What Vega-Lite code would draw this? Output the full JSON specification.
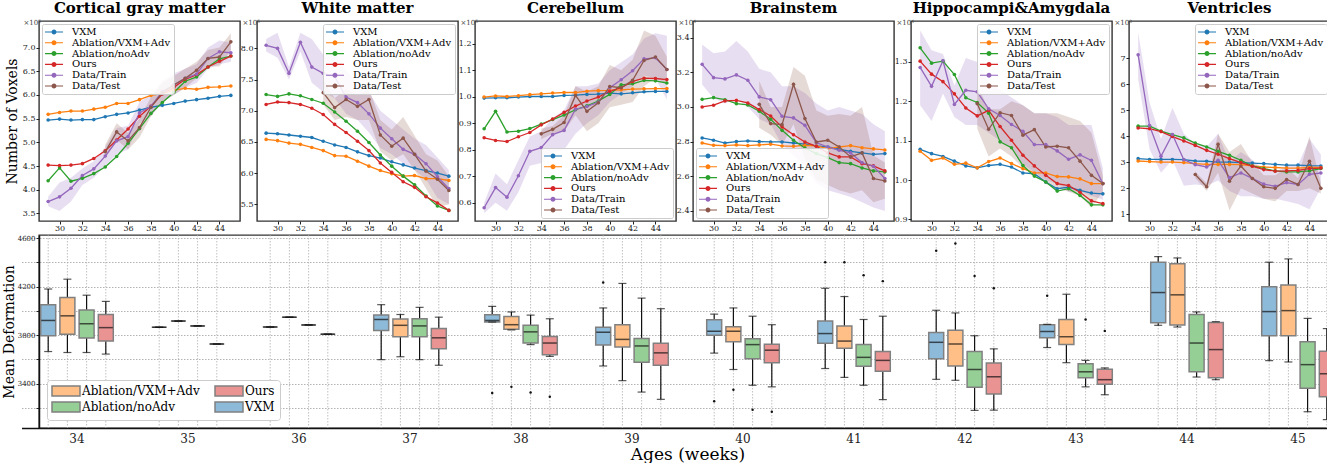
{
"$schema":"https://vega.github.io/schema/vega-lite/v6.json",
"background":"white",
"padding":{"left":1,"top":0,"right":0,"bottom":0},
"datasets":{
"l1":[
{"method":"VXM","age":29,"value":5.47},{"method":"VXM","age":30,"value":5.49},{"method":"VXM","age":31,"value":5.47},{"method":"VXM","age":32,"value":5.48},{"method":"VXM","age":33,"value":5.48},{"method":"VXM","age":34,"value":5.54},{"method":"VXM","age":35,"value":5.59},{"method":"VXM","age":36,"value":5.62},{"method":"VXM","age":37,"value":5.68},{"method":"VXM","age":38,"value":5.74},{"method":"VXM","age":39,"value":5.78},{"method":"VXM","age":40,"value":5.82},{"method":"VXM","age":41,"value":5.87},{"method":"VXM","age":42,"value":5.90},{"method":"VXM","age":43,"value":5.93},{"method":"VXM","age":44,"value":5.97},{"method":"VXM","age":45,"value":5.99},
{"method":"Ablation/VXM+Adv","age":29,"value":5.59},{"method":"Ablation/VXM+Adv","age":30,"value":5.63},{"method":"Ablation/VXM+Adv","age":31,"value":5.66},{"method":"Ablation/VXM+Adv","age":32,"value":5.66},{"method":"Ablation/VXM+Adv","age":33,"value":5.70},{"method":"Ablation/VXM+Adv","age":34,"value":5.74},{"method":"Ablation/VXM+Adv","age":35,"value":5.82},{"method":"Ablation/VXM+Adv","age":36,"value":5.82},{"method":"Ablation/VXM+Adv","age":37,"value":5.90},{"method":"Ablation/VXM+Adv","age":38,"value":5.99},{"method":"Ablation/VXM+Adv","age":39,"value":6.03},{"method":"Ablation/VXM+Adv","age":40,"value":6.10},{"method":"Ablation/VXM+Adv","age":41,"value":6.14},{"method":"Ablation/VXM+Adv","age":42,"value":6.12},{"method":"Ablation/VXM+Adv","age":43,"value":6.16},{"method":"Ablation/VXM+Adv","age":44,"value":6.17},{"method":"Ablation/VXM+Adv","age":45,"value":6.19},
{"method":"Ablation/noAdv","age":29,"value":4.19},{"method":"Ablation/noAdv","age":30,"value":4.46},{"method":"Ablation/noAdv","age":31,"value":4.18},{"method":"Ablation/noAdv","age":32,"value":4.24},{"method":"Ablation/noAdv","age":33,"value":4.34},{"method":"Ablation/noAdv","age":34,"value":4.48},{"method":"Ablation/noAdv","age":35,"value":4.70},{"method":"Ablation/noAdv","age":36,"value":4.98},{"method":"Ablation/noAdv","age":37,"value":5.29},{"method":"Ablation/noAdv","age":38,"value":5.61},{"method":"Ablation/noAdv","age":39,"value":5.84},{"method":"Ablation/noAdv","age":40,"value":6.05},{"method":"Ablation/noAdv","age":41,"value":6.29},{"method":"Ablation/noAdv","age":42,"value":6.38},{"method":"Ablation/noAdv","age":43,"value":6.59},{"method":"Ablation/noAdv","age":44,"value":6.76},{"method":"Ablation/noAdv","age":45,"value":6.82},
{"method":"Ours","age":29,"value":4.52},{"method":"Ours","age":30,"value":4.51},{"method":"Ours","age":31,"value":4.52},{"method":"Ours","age":32,"value":4.55},{"method":"Ours","age":33,"value":4.66},{"method":"Ours","age":34,"value":4.82},{"method":"Ours","age":35,"value":5.05},{"method":"Ours","age":36,"value":5.28},{"method":"Ours","age":37,"value":5.55},{"method":"Ours","age":38,"value":5.76},{"method":"Ours","age":39,"value":6.02},{"method":"Ours","age":40,"value":6.16},{"method":"Ours","age":41,"value":6.33},{"method":"Ours","age":42,"value":6.43},{"method":"Ours","age":43,"value":6.59},{"method":"Ours","age":44,"value":6.71},{"method":"Ours","age":45,"value":6.82},
{"method":"Data/Train","age":29,"value":3.75},{"method":"Data/Train","age":30,"value":3.85},{"method":"Data/Train","age":31,"value":4.03},{"method":"Data/Train","age":32,"value":4.30},{"method":"Data/Train","age":33,"value":4.44},{"method":"Data/Train","age":34,"value":4.71},{"method":"Data/Train","age":35,"value":5.03},{"method":"Data/Train","age":36,"value":5.12},{"method":"Data/Train","age":37,"value":5.62},{"method":"Data/Train","age":38,"value":5.76},{"method":"Data/Train","age":39,"value":6.07},{"method":"Data/Train","age":40,"value":6.21},{"method":"Data/Train","age":41,"value":6.35},{"method":"Data/Train","age":42,"value":6.44},{"method":"Data/Train","age":43,"value":6.77},{"method":"Data/Train","age":44,"value":6.91},{"method":"Data/Train","age":45,"value":6.89},
{"method":"Data/Test","age":34,"value":4.80},{"method":"Data/Test","age":35,"value":5.22},{"method":"Data/Test","age":36,"value":5.03},{"method":"Data/Test","age":37,"value":5.31},{"method":"Data/Test","age":38,"value":5.74},{"method":"Data/Test","age":39,"value":6.05},{"method":"Data/Test","age":40,"value":6.21},{"method":"Data/Test","age":41,"value":6.35},{"method":"Data/Test","age":42,"value":6.52},{"method":"Data/Test","age":43,"value":6.77},{"method":"Data/Test","age":44,"value":6.80},{"method":"Data/Test","age":45,"value":7.12}
],
"b1":[
{"method":"Data/Train","age":29,"lo":3.65,"hi":3.85},{"method":"Data/Train","age":30,"lo":3.55,"hi":4.15},{"method":"Data/Train","age":31,"lo":3.75,"hi":4.25},{"method":"Data/Train","age":32,"lo":4.1,"hi":4.45},{"method":"Data/Train","age":33,"lo":4.25,"hi":4.6},{"method":"Data/Train","age":34,"lo":4.5,"hi":4.9},{"method":"Data/Train","age":35,"lo":4.75,"hi":5.3},{"method":"Data/Train","age":36,"lo":4.85,"hi":5.35},{"method":"Data/Train","age":37,"lo":5.4,"hi":5.85},{"method":"Data/Train","age":38,"lo":5.55,"hi":6.0},{"method":"Data/Train","age":39,"lo":5.85,"hi":6.3},{"method":"Data/Train","age":40,"lo":6.0,"hi":6.45},{"method":"Data/Train","age":41,"lo":6.15,"hi":6.55},{"method":"Data/Train","age":42,"lo":6.25,"hi":6.65},{"method":"Data/Train","age":43,"lo":6.55,"hi":7.0},{"method":"Data/Train","age":44,"lo":6.65,"hi":7.15},{"method":"Data/Train","age":45,"lo":6.7,"hi":7.1},
{"method":"Data/Test","age":34,"lo":4.65,"hi":4.95},{"method":"Data/Test","age":35,"lo":5.05,"hi":5.4},{"method":"Data/Test","age":36,"lo":4.85,"hi":5.2},{"method":"Data/Test","age":37,"lo":5.1,"hi":5.5},{"method":"Data/Test","age":38,"lo":5.55,"hi":5.95},{"method":"Data/Test","age":39,"lo":5.85,"hi":6.25},{"method":"Data/Test","age":40,"lo":6.0,"hi":6.4},{"method":"Data/Test","age":41,"lo":6.15,"hi":6.55},{"method":"Data/Test","age":42,"lo":6.35,"hi":6.7},{"method":"Data/Test","age":43,"lo":6.6,"hi":6.95},{"method":"Data/Test","age":44,"lo":6.6,"hi":7.0},{"method":"Data/Test","age":45,"lo":6.95,"hi":7.3}
],
"l2":[
{"method":"VXM","age":29,"value":6.64},{"method":"VXM","age":30,"value":6.63},{"method":"VXM","age":31,"value":6.61},{"method":"VXM","age":32,"value":6.59},{"method":"VXM","age":33,"value":6.57},{"method":"VXM","age":34,"value":6.51},{"method":"VXM","age":35,"value":6.45},{"method":"VXM","age":36,"value":6.41},{"method":"VXM","age":37,"value":6.34},{"method":"VXM","age":38,"value":6.28},{"method":"VXM","age":39,"value":6.24},{"method":"VXM","age":40,"value":6.18},{"method":"VXM","age":41,"value":6.13},{"method":"VXM","age":42,"value":6.08},{"method":"VXM","age":43,"value":6.04},{"method":"VXM","age":44,"value":6.00},{"method":"VXM","age":45,"value":5.95},
{"method":"Ablation/VXM+Adv","age":29,"value":6.54},{"method":"Ablation/VXM+Adv","age":30,"value":6.52},{"method":"Ablation/VXM+Adv","age":31,"value":6.48},{"method":"Ablation/VXM+Adv","age":32,"value":6.46},{"method":"Ablation/VXM+Adv","age":33,"value":6.41},{"method":"Ablation/VXM+Adv","age":34,"value":6.36},{"method":"Ablation/VXM+Adv","age":35,"value":6.28},{"method":"Ablation/VXM+Adv","age":36,"value":6.27},{"method":"Ablation/VXM+Adv","age":37,"value":6.19},{"method":"Ablation/VXM+Adv","age":38,"value":6.11},{"method":"Ablation/VXM+Adv","age":39,"value":6.04},{"method":"Ablation/VXM+Adv","age":40,"value":5.99},{"method":"Ablation/VXM+Adv","age":41,"value":5.95},{"method":"Ablation/VXM+Adv","age":42,"value":5.96},{"method":"Ablation/VXM+Adv","age":43,"value":5.91},{"method":"Ablation/VXM+Adv","age":44,"value":5.91},{"method":"Ablation/VXM+Adv","age":45,"value":5.88},
{"method":"Ablation/noAdv","age":29,"value":7.26},{"method":"Ablation/noAdv","age":30,"value":7.23},{"method":"Ablation/noAdv","age":31,"value":7.27},{"method":"Ablation/noAdv","age":32,"value":7.24},{"method":"Ablation/noAdv","age":33,"value":7.18},{"method":"Ablation/noAdv","age":34,"value":7.12},{"method":"Ablation/noAdv","age":35,"value":6.98},{"method":"Ablation/noAdv","age":36,"value":6.83},{"method":"Ablation/noAdv","age":37,"value":6.67},{"method":"Ablation/noAdv","age":38,"value":6.49},{"method":"Ablation/noAdv","age":39,"value":6.29},{"method":"Ablation/noAdv","age":40,"value":6.11},{"method":"Ablation/noAdv","age":41,"value":5.95},{"method":"Ablation/noAdv","age":42,"value":5.81},{"method":"Ablation/noAdv","age":43,"value":5.63},{"method":"Ablation/noAdv","age":44,"value":5.47},{"method":"Ablation/noAdv","age":45,"value":5.40},
{"method":"Ours","age":29,"value":7.10},{"method":"Ours","age":30,"value":7.14},{"method":"Ours","age":31,"value":7.13},{"method":"Ours","age":32,"value":7.10},{"method":"Ours","age":33,"value":7.04},{"method":"Ours","age":34,"value":6.94},{"method":"Ours","age":35,"value":6.78},{"method":"Ours","age":36,"value":6.65},{"method":"Ours","age":37,"value":6.51},{"method":"Ours","age":38,"value":6.36},{"method":"Ours","age":39,"value":6.16},{"method":"Ours","age":40,"value":6.01},{"method":"Ours","age":41,"value":5.86},{"method":"Ours","age":42,"value":5.77},{"method":"Ours","age":43,"value":5.62},{"method":"Ours","age":44,"value":5.52},{"method":"Ours","age":45,"value":5.40},
{"method":"Data/Train","age":29,"value":8.05},{"method":"Data/Train","age":30,"value":8.00},{"method":"Data/Train","age":31,"value":7.60},{"method":"Data/Train","age":32,"value":8.10},{"method":"Data/Train","age":33,"value":7.70},{"method":"Data/Train","age":34,"value":7.60},{"method":"Data/Train","age":35,"value":7.55},{"method":"Data/Train","age":36,"value":7.22},{"method":"Data/Train","age":37,"value":7.13},{"method":"Data/Train","age":38,"value":6.95},{"method":"Data/Train","age":39,"value":6.72},{"method":"Data/Train","age":40,"value":6.55},{"method":"Data/Train","age":41,"value":6.38},{"method":"Data/Train","age":42,"value":6.30},{"method":"Data/Train","age":43,"value":6.15},{"method":"Data/Train","age":44,"value":5.94},{"method":"Data/Train","age":45,"value":5.75},
{"method":"Data/Test","age":34,"value":7.29},{"method":"Data/Test","age":35,"value":7.05},{"method":"Data/Test","age":36,"value":7.18},{"method":"Data/Test","age":37,"value":7.07},{"method":"Data/Test","age":38,"value":7.18},{"method":"Data/Test","age":39,"value":6.61},{"method":"Data/Test","age":40,"value":6.43},{"method":"Data/Test","age":41,"value":6.56},{"method":"Data/Test","age":42,"value":6.30},{"method":"Data/Test","age":43,"value":6.03},{"method":"Data/Test","age":44,"value":5.90},{"method":"Data/Test","age":45,"value":5.72}
],
"b2":[
{"method":"Data/Train","age":29,"lo":7.95,"hi":8.15},{"method":"Data/Train","age":30,"lo":7.85,"hi":8.25},{"method":"Data/Train","age":31,"lo":7.5,"hi":7.7},{"method":"Data/Train","age":32,"lo":7.95,"hi":8.25},{"method":"Data/Train","age":33,"lo":7.45,"hi":8.15},{"method":"Data/Train","age":34,"lo":7.3,"hi":7.9},{"method":"Data/Train","age":35,"lo":7.2,"hi":7.95},{"method":"Data/Train","age":36,"lo":6.95,"hi":7.65},{"method":"Data/Train","age":37,"lo":6.85,"hi":7.45},{"method":"Data/Train","age":38,"lo":6.65,"hi":7.3},{"method":"Data/Train","age":39,"lo":6.4,"hi":7.0},{"method":"Data/Train","age":40,"lo":6.3,"hi":6.85},{"method":"Data/Train","age":41,"lo":6.15,"hi":6.7},{"method":"Data/Train","age":42,"lo":6.05,"hi":6.55},{"method":"Data/Train","age":43,"lo":5.9,"hi":6.45},{"method":"Data/Train","age":44,"lo":5.6,"hi":6.25},{"method":"Data/Train","age":45,"lo":5.5,"hi":6.05},
{"method":"Data/Test","age":34,"lo":7.1,"hi":7.5},{"method":"Data/Test","age":35,"lo":6.85,"hi":7.2},{"method":"Data/Test","age":36,"lo":6.9,"hi":7.35},{"method":"Data/Test","age":37,"lo":6.85,"hi":7.25},{"method":"Data/Test","age":38,"lo":6.85,"hi":7.35},{"method":"Data/Test","age":39,"lo":6.35,"hi":6.85},{"method":"Data/Test","age":40,"lo":6.2,"hi":6.7},{"method":"Data/Test","age":41,"lo":6.3,"hi":6.9},{"method":"Data/Test","age":42,"lo":6.05,"hi":6.6},{"method":"Data/Test","age":43,"lo":5.75,"hi":6.3},{"method":"Data/Test","age":44,"lo":5.45,"hi":6.2},{"method":"Data/Test","age":45,"lo":5.5,"hi":5.95}
],
"l3":[
{"method":"VXM","age":29,"value":0.995},{"method":"VXM","age":30,"value":0.996},{"method":"VXM","age":31,"value":0.996},{"method":"VXM","age":32,"value":0.999},{"method":"VXM","age":33,"value":1.001},{"method":"VXM","age":34,"value":1.001},{"method":"VXM","age":35,"value":1.001},{"method":"VXM","age":36,"value":1.005},{"method":"VXM","age":37,"value":1.006},{"method":"VXM","age":38,"value":1.009},{"method":"VXM","age":39,"value":1.010},{"method":"VXM","age":40,"value":1.014},{"method":"VXM","age":41,"value":1.011},{"method":"VXM","age":42,"value":1.015},{"method":"VXM","age":43,"value":1.019},{"method":"VXM","age":44,"value":1.020},{"method":"VXM","age":45,"value":1.020},
{"method":"Ablation/VXM+Adv","age":29,"value":0.999},{"method":"Ablation/VXM+Adv","age":30,"value":1.003},{"method":"Ablation/VXM+Adv","age":31,"value":1.001},{"method":"Ablation/VXM+Adv","age":32,"value":1.004},{"method":"Ablation/VXM+Adv","age":33,"value":1.008},{"method":"Ablation/VXM+Adv","age":34,"value":1.011},{"method":"Ablation/VXM+Adv","age":35,"value":1.014},{"method":"Ablation/VXM+Adv","age":36,"value":1.016},{"method":"Ablation/VXM+Adv","age":37,"value":1.016},{"method":"Ablation/VXM+Adv","age":38,"value":1.021},{"method":"Ablation/VXM+Adv","age":39,"value":1.023},{"method":"Ablation/VXM+Adv","age":40,"value":1.024},{"method":"Ablation/VXM+Adv","age":41,"value":1.026},{"method":"Ablation/VXM+Adv","age":42,"value":1.029},{"method":"Ablation/VXM+Adv","age":43,"value":1.030},{"method":"Ablation/VXM+Adv","age":44,"value":1.031},{"method":"Ablation/VXM+Adv","age":45,"value":1.031},
{"method":"Ablation/noAdv","age":29,"value":0.879},{"method":"Ablation/noAdv","age":30,"value":0.945},{"method":"Ablation/noAdv","age":31,"value":0.867},{"method":"Ablation/noAdv","age":32,"value":0.870},{"method":"Ablation/noAdv","age":33,"value":0.880},{"method":"Ablation/noAdv","age":34,"value":0.897},{"method":"Ablation/noAdv","age":35,"value":0.914},{"method":"Ablation/noAdv","age":36,"value":0.931},{"method":"Ablation/noAdv","age":37,"value":0.951},{"method":"Ablation/noAdv","age":38,"value":0.966},{"method":"Ablation/noAdv","age":39,"value":0.984},{"method":"Ablation/noAdv","age":40,"value":1.009},{"method":"Ablation/noAdv","age":41,"value":1.045},{"method":"Ablation/noAdv","age":42,"value":1.049},{"method":"Ablation/noAdv","age":43,"value":1.062},{"method":"Ablation/noAdv","age":44,"value":1.060},{"method":"Ablation/noAdv","age":45,"value":1.052},
{"method":"Ours","age":29,"value":0.845},{"method":"Ours","age":30,"value":0.835},{"method":"Ours","age":31,"value":0.831},{"method":"Ours","age":32,"value":0.849},{"method":"Ours","age":33,"value":0.865},{"method":"Ours","age":34,"value":0.894},{"method":"Ours","age":35,"value":0.916},{"method":"Ours","age":36,"value":0.941},{"method":"Ours","age":37,"value":0.965},{"method":"Ours","age":38,"value":0.984},{"method":"Ours","age":39,"value":0.999},{"method":"Ours","age":40,"value":1.021},{"method":"Ours","age":41,"value":1.034},{"method":"Ours","age":42,"value":1.058},{"method":"Ours","age":43,"value":1.070},{"method":"Ours","age":44,"value":1.069},{"method":"Ours","age":45,"value":1.065},
{"method":"Data/Train","age":29,"value":0.581},{"method":"Data/Train","age":30,"value":0.657},{"method":"Data/Train","age":31,"value":0.621},{"method":"Data/Train","age":32,"value":0.702},{"method":"Data/Train","age":33,"value":0.794},{"method":"Data/Train","age":34,"value":0.808},{"method":"Data/Train","age":35,"value":0.857},{"method":"Data/Train","age":36,"value":0.873},{"method":"Data/Train","age":37,"value":0.953},{"method":"Data/Train","age":38,"value":0.963},{"method":"Data/Train","age":39,"value":0.980},{"method":"Data/Train","age":40,"value":1.034},{"method":"Data/Train","age":41,"value":1.064},{"method":"Data/Train","age":42,"value":1.098},{"method":"Data/Train","age":43,"value":1.143},{"method":"Data/Train","age":44,"value":1.147},{"method":"Data/Train","age":45,"value":1.103},
{"method":"Data/Test","age":34,"value":0.860},{"method":"Data/Test","age":35,"value":0.877},{"method":"Data/Test","age":36,"value":0.903},{"method":"Data/Test","age":37,"value":1.005},{"method":"Data/Test","age":38,"value":0.945},{"method":"Data/Test","age":39,"value":0.977},{"method":"Data/Test","age":40,"value":1.039},{"method":"Data/Test","age":41,"value":1.034},{"method":"Data/Test","age":42,"value":1.062},{"method":"Data/Test","age":43,"value":1.137},{"method":"Data/Test","age":44,"value":1.150},{"method":"Data/Test","age":45,"value":1.103}
],
"b3":[
{"method":"Data/Train","age":29,"lo":0.56,"hi":0.60},{"method":"Data/Train","age":30,"lo":0.60,"hi":0.71},{"method":"Data/Train","age":31,"lo":0.57,"hi":0.67},{"method":"Data/Train","age":32,"lo":0.64,"hi":0.76},{"method":"Data/Train","age":33,"lo":0.74,"hi":0.85},{"method":"Data/Train","age":34,"lo":0.75,"hi":0.87},{"method":"Data/Train","age":35,"lo":0.79,"hi":0.92},{"method":"Data/Train","age":36,"lo":0.80,"hi":0.95},{"method":"Data/Train","age":37,"lo":0.86,"hi":1.04},{"method":"Data/Train","age":38,"lo":0.90,"hi":1.04},{"method":"Data/Train","age":39,"lo":0.93,"hi":1.05},{"method":"Data/Train","age":40,"lo":0.98,"hi":1.10},{"method":"Data/Train","age":41,"lo":1.01,"hi":1.13},{"method":"Data/Train","age":42,"lo":1.04,"hi":1.16},{"method":"Data/Train","age":43,"lo":1.08,"hi":1.22},{"method":"Data/Train","age":44,"lo":1.07,"hi":1.24},{"method":"Data/Train","age":45,"lo":0.99,"hi":1.23},
{"method":"Data/Test","age":34,"lo":0.84,"hi":0.88},{"method":"Data/Test","age":35,"lo":0.86,"hi":0.89},{"method":"Data/Test","age":36,"lo":0.87,"hi":0.93},{"method":"Data/Test","age":37,"lo":0.93,"hi":1.04},{"method":"Data/Test","age":38,"lo":0.87,"hi":1.02},{"method":"Data/Test","age":39,"lo":0.90,"hi":1.04},{"method":"Data/Test","age":40,"lo":0.96,"hi":1.12},{"method":"Data/Test","age":41,"lo":0.97,"hi":1.10},{"method":"Data/Test","age":42,"lo":0.98,"hi":1.14},{"method":"Data/Test","age":43,"lo":1.04,"hi":1.25},{"method":"Data/Test","age":44,"lo":1.07,"hi":1.23},{"method":"Data/Test","age":45,"lo":1.05,"hi":1.15}
],
"l4":[
{"method":"VXM","age":29,"value":2.821},{"method":"VXM","age":30,"value":2.808},{"method":"VXM","age":31,"value":2.792},{"method":"VXM","age":32,"value":2.800},{"method":"VXM","age":33,"value":2.804},{"method":"VXM","age":34,"value":2.800},{"method":"VXM","age":35,"value":2.798},{"method":"VXM","age":36,"value":2.798},{"method":"VXM","age":37,"value":2.792},{"method":"VXM","age":38,"value":2.785},{"method":"VXM","age":39,"value":2.775},{"method":"VXM","age":40,"value":2.769},{"method":"VXM","age":41,"value":2.756},{"method":"VXM","age":42,"value":2.744},{"method":"VXM","age":43,"value":2.735},{"method":"VXM","age":44,"value":2.727},{"method":"VXM","age":45,"value":2.731},
{"method":"Ablation/VXM+Adv","age":29,"value":2.792},{"method":"Ablation/VXM+Adv","age":30,"value":2.779},{"method":"Ablation/VXM+Adv","age":31,"value":2.777},{"method":"Ablation/VXM+Adv","age":32,"value":2.781},{"method":"Ablation/VXM+Adv","age":33,"value":2.777},{"method":"Ablation/VXM+Adv","age":34,"value":2.781},{"method":"Ablation/VXM+Adv","age":35,"value":2.785},{"method":"Ablation/VXM+Adv","age":36,"value":2.775},{"method":"Ablation/VXM+Adv","age":37,"value":2.773},{"method":"Ablation/VXM+Adv","age":38,"value":2.779},{"method":"Ablation/VXM+Adv","age":39,"value":2.775},{"method":"Ablation/VXM+Adv","age":40,"value":2.760},{"method":"Ablation/VXM+Adv","age":41,"value":2.769},{"method":"Ablation/VXM+Adv","age":42,"value":2.777},{"method":"Ablation/VXM+Adv","age":43,"value":2.765},{"method":"Ablation/VXM+Adv","age":44,"value":2.758},{"method":"Ablation/VXM+Adv","age":45,"value":2.752},
{"method":"Ablation/noAdv","age":29,"value":3.044},{"method":"Ablation/noAdv","age":30,"value":3.054},{"method":"Ablation/noAdv","age":31,"value":3.042},{"method":"Ablation/noAdv","age":32,"value":3.019},{"method":"Ablation/noAdv","age":33,"value":3.012},{"method":"Ablation/noAdv","age":34,"value":2.975},{"method":"Ablation/noAdv","age":35,"value":2.929},{"method":"Ablation/noAdv","age":36,"value":2.865},{"method":"Ablation/noAdv","age":37,"value":2.808},{"method":"Ablation/noAdv","age":38,"value":2.763},{"method":"Ablation/noAdv","age":39,"value":2.731},{"method":"Ablation/noAdv","age":40,"value":2.708},{"method":"Ablation/noAdv","age":41,"value":2.679},{"method":"Ablation/noAdv","age":42,"value":2.673},{"method":"Ablation/noAdv","age":43,"value":2.648},{"method":"Ablation/noAdv","age":44,"value":2.631},{"method":"Ablation/noAdv","age":45,"value":2.625},
{"method":"Ours","age":29,"value":3.000},{"method":"Ours","age":30,"value":3.010},{"method":"Ours","age":31,"value":3.035},{"method":"Ours","age":32,"value":3.038},{"method":"Ours","age":33,"value":3.023},{"method":"Ours","age":34,"value":2.985},{"method":"Ours","age":35,"value":2.948},{"method":"Ours","age":36,"value":2.885},{"method":"Ours","age":37,"value":2.840},{"method":"Ours","age":38,"value":2.798},{"method":"Ours","age":39,"value":2.773},{"method":"Ours","age":40,"value":2.735},{"method":"Ours","age":41,"value":2.712},{"method":"Ours","age":42,"value":2.712},{"method":"Ours","age":43,"value":2.673},{"method":"Ours","age":44,"value":2.660},{"method":"Ours","age":45,"value":2.631},
{"method":"Data/Train","age":29,"value":3.246},{"method":"Data/Train","age":30,"value":3.169},{"method":"Data/Train","age":31,"value":3.162},{"method":"Data/Train","age":32,"value":3.185},{"method":"Data/Train","age":33,"value":3.154},{"method":"Data/Train","age":34,"value":3.058},{"method":"Data/Train","age":35,"value":3.042},{"method":"Data/Train","age":36,"value":2.946},{"method":"Data/Train","age":37,"value":2.937},{"method":"Data/Train","age":38,"value":2.894},{"method":"Data/Train","age":39,"value":2.794},{"method":"Data/Train","age":40,"value":2.769},{"method":"Data/Train","age":41,"value":2.750},{"method":"Data/Train","age":42,"value":2.735},{"method":"Data/Train","age":43,"value":2.679},{"method":"Data/Train","age":44,"value":2.658},{"method":"Data/Train","age":45,"value":2.587},
{"method":"Data/Test","age":34,"value":3.015},{"method":"Data/Test","age":35,"value":2.904},{"method":"Data/Test","age":36,"value":2.898},{"method":"Data/Test","age":37,"value":3.131},{"method":"Data/Test","age":38,"value":2.933},{"method":"Data/Test","age":39,"value":2.798},{"method":"Data/Test","age":40,"value":2.808},{"method":"Data/Test","age":41,"value":2.769},{"method":"Data/Test","age":42,"value":2.712},{"method":"Data/Test","age":43,"value":2.735},{"method":"Data/Test","age":44,"value":2.587},{"method":"Data/Test","age":45,"value":2.573}
],
"b4":[
{"method":"Data/Train","age":29,"lo":3.13,"hi":3.36},{"method":"Data/Train","age":30,"lo":3.05,"hi":3.31},{"method":"Data/Train","age":31,"lo":3.02,"hi":3.32},{"method":"Data/Train","age":32,"lo":3.05,"hi":3.38},{"method":"Data/Train","age":33,"lo":3.0,"hi":3.32},{"method":"Data/Train","age":34,"lo":2.93,"hi":3.22},{"method":"Data/Train","age":35,"lo":2.90,"hi":3.20},{"method":"Data/Train","age":36,"lo":2.78,"hi":3.12},{"method":"Data/Train","age":37,"lo":2.72,"hi":3.12},{"method":"Data/Train","age":38,"lo":2.66,"hi":3.08},{"method":"Data/Train","age":39,"lo":2.56,"hi":3.02},{"method":"Data/Train","age":40,"lo":2.52,"hi":2.98},{"method":"Data/Train","age":41,"lo":2.50,"hi":3.0},{"method":"Data/Train","age":42,"lo":2.48,"hi":2.98},{"method":"Data/Train","age":43,"lo":2.45,"hi":2.96},{"method":"Data/Train","age":44,"lo":2.42,"hi":2.90},{"method":"Data/Train","age":45,"lo":2.40,"hi":2.86},
{"method":"Data/Test","age":34,"lo":2.88,"hi":3.15},{"method":"Data/Test","age":35,"lo":2.84,"hi":3.0},{"method":"Data/Test","age":36,"lo":2.78,"hi":3.0},{"method":"Data/Test","age":37,"lo":2.90,"hi":3.23},{"method":"Data/Test","age":38,"lo":2.70,"hi":3.18},{"method":"Data/Test","age":39,"lo":2.58,"hi":2.98},{"method":"Data/Test","age":40,"lo":2.55,"hi":2.95},{"method":"Data/Test","age":41,"lo":2.52,"hi":2.96},{"method":"Data/Test","age":42,"lo":2.50,"hi":2.95},{"method":"Data/Test","age":43,"lo":2.52,"hi":3.0},{"method":"Data/Test","age":44,"lo":2.45,"hi":2.72},{"method":"Data/Test","age":45,"lo":2.47,"hi":2.68}
],
"l5":[
{"method":"VXM","age":29,"value":1.078},{"method":"VXM","age":30,"value":1.067},{"method":"VXM","age":31,"value":1.060},{"method":"VXM","age":32,"value":1.048},{"method":"VXM","age":33,"value":1.036},{"method":"VXM","age":34,"value":1.031},{"method":"VXM","age":35,"value":1.037},{"method":"VXM","age":36,"value":1.040},{"method":"VXM","age":37,"value":1.033},{"method":"VXM","age":38,"value":1.018},{"method":"VXM","age":39,"value":1.016},{"method":"VXM","age":40,"value":0.995},{"method":"VXM","age":41,"value":0.978},{"method":"VXM","age":42,"value":0.982},{"method":"VXM","age":43,"value":0.974},{"method":"VXM","age":44,"value":0.967},{"method":"VXM","age":45,"value":0.965},
{"method":"Ablation/VXM+Adv","age":29,"value":1.073},{"method":"Ablation/VXM+Adv","age":30,"value":1.050},{"method":"Ablation/VXM+Adv","age":31,"value":1.056},{"method":"Ablation/VXM+Adv","age":32,"value":1.040},{"method":"Ablation/VXM+Adv","age":33,"value":1.043},{"method":"Ablation/VXM+Adv","age":34,"value":1.031},{"method":"Ablation/VXM+Adv","age":35,"value":1.047},{"method":"Ablation/VXM+Adv","age":36,"value":1.056},{"method":"Ablation/VXM+Adv","age":37,"value":1.042},{"method":"Ablation/VXM+Adv","age":38,"value":1.029},{"method":"Ablation/VXM+Adv","age":39,"value":1.018},{"method":"Ablation/VXM+Adv","age":40,"value":1.018},{"method":"Ablation/VXM+Adv","age":41,"value":1.009},{"method":"Ablation/VXM+Adv","age":42,"value":1.008},{"method":"Ablation/VXM+Adv","age":43,"value":1.003},{"method":"Ablation/VXM+Adv","age":44,"value":0.991},{"method":"Ablation/VXM+Adv","age":45,"value":0.991},
{"method":"Ablation/noAdv","age":29,"value":1.336},{"method":"Ablation/noAdv","age":30,"value":1.297},{"method":"Ablation/noAdv","age":31,"value":1.302},{"method":"Ablation/noAdv","age":32,"value":1.268},{"method":"Ablation/noAdv","age":33,"value":1.209},{"method":"Ablation/noAdv","age":34,"value":1.197},{"method":"Ablation/noAdv","age":35,"value":1.170},{"method":"Ablation/noAdv","age":36,"value":1.097},{"method":"Ablation/noAdv","age":37,"value":1.082},{"method":"Ablation/noAdv","age":38,"value":1.037},{"method":"Ablation/noAdv","age":39,"value":1.010},{"method":"Ablation/noAdv","age":40,"value":0.995},{"method":"Ablation/noAdv","age":41,"value":0.972},{"method":"Ablation/noAdv","age":42,"value":0.978},{"method":"Ablation/noAdv","age":43,"value":0.961},{"method":"Ablation/noAdv","age":44,"value":0.937},{"method":"Ablation/noAdv","age":45,"value":0.937},
{"method":"Ours","age":29,"value":1.302},{"method":"Ours","age":30,"value":1.269},{"method":"Ours","age":31,"value":1.250},{"method":"Ours","age":32,"value":1.219},{"method":"Ours","age":33,"value":1.183},{"method":"Ours","age":34,"value":1.163},{"method":"Ours","age":35,"value":1.177},{"method":"Ours","age":36,"value":1.136},{"method":"Ours","age":37,"value":1.101},{"method":"Ours","age":38,"value":1.063},{"method":"Ours","age":39,"value":1.036},{"method":"Ours","age":40,"value":1.012},{"method":"Ours","age":41,"value":0.991},{"method":"Ours","age":42,"value":0.986},{"method":"Ours","age":43,"value":0.969},{"method":"Ours","age":44,"value":0.947},{"method":"Ours","age":45,"value":0.940},
{"method":"Data/Train","age":29,"value":1.286},{"method":"Data/Train","age":30,"value":1.238},{"method":"Data/Train","age":31,"value":1.303},{"method":"Data/Train","age":32,"value":1.192},{"method":"Data/Train","age":33,"value":1.228},{"method":"Data/Train","age":34,"value":1.224},{"method":"Data/Train","age":35,"value":1.181},{"method":"Data/Train","age":36,"value":1.164},{"method":"Data/Train","age":37,"value":1.141},{"method":"Data/Train","age":38,"value":1.124},{"method":"Data/Train","age":39,"value":1.090},{"method":"Data/Train","age":40,"value":1.090},{"method":"Data/Train","age":41,"value":1.074},{"method":"Data/Train","age":42,"value":1.053},{"method":"Data/Train","age":43,"value":1.064},{"method":"Data/Train","age":44,"value":1.050},{"method":"Data/Train","age":45,"value":0.991},
{"method":"Data/Test","age":34,"value":1.194},{"method":"Data/Test","age":35,"value":1.129},{"method":"Data/Test","age":36,"value":1.171},{"method":"Data/Test","age":37,"value":1.164},{"method":"Data/Test","age":38,"value":1.114},{"method":"Data/Test","age":39,"value":1.128},{"method":"Data/Test","age":40,"value":1.084},{"method":"Data/Test","age":41,"value":1.086},{"method":"Data/Test","age":42,"value":1.082},{"method":"Data/Test","age":43,"value":1.048},{"method":"Data/Test","age":44,"value":1.012},{"method":"Data/Test","age":45,"value":0.991}
],
"b5":[
{"method":"Data/Train","age":29,"lo":1.19,"hi":1.38},{"method":"Data/Train","age":30,"lo":1.15,"hi":1.33},{"method":"Data/Train","age":31,"lo":1.22,"hi":1.32},{"method":"Data/Train","age":32,"lo":1.16,"hi":1.24},{"method":"Data/Train","age":33,"lo":1.14,"hi":1.31},{"method":"Data/Train","age":34,"lo":1.14,"hi":1.30},{"method":"Data/Train","age":35,"lo":1.12,"hi":1.25},{"method":"Data/Train","age":36,"lo":1.10,"hi":1.23},{"method":"Data/Train","age":37,"lo":1.08,"hi":1.21},{"method":"Data/Train","age":38,"lo":1.04,"hi":1.19},{"method":"Data/Train","age":39,"lo":1.02,"hi":1.17},{"method":"Data/Train","age":40,"lo":1.0,"hi":1.17},{"method":"Data/Train","age":41,"lo":0.99,"hi":1.16},{"method":"Data/Train","age":42,"lo":0.97,"hi":1.14},{"method":"Data/Train","age":43,"lo":0.97,"hi":1.14},{"method":"Data/Train","age":44,"lo":0.96,"hi":1.14},{"method":"Data/Train","age":45,"lo":0.95,"hi":1.03},
{"method":"Data/Test","age":34,"lo":1.13,"hi":1.24},{"method":"Data/Test","age":35,"lo":1.06,"hi":1.18},{"method":"Data/Test","age":36,"lo":1.08,"hi":1.18},{"method":"Data/Test","age":37,"lo":1.06,"hi":1.20},{"method":"Data/Test","age":38,"lo":1.03,"hi":1.19},{"method":"Data/Test","age":39,"lo":1.02,"hi":1.17},{"method":"Data/Test","age":40,"lo":0.99,"hi":1.17},{"method":"Data/Test","age":41,"lo":0.98,"hi":1.17},{"method":"Data/Test","age":42,"lo":0.97,"hi":1.16},{"method":"Data/Test","age":43,"lo":0.96,"hi":1.15},{"method":"Data/Test","age":44,"lo":0.93,"hi":1.12},{"method":"Data/Test","age":45,"lo":0.97,"hi":1.01}
],
"l6":[
{"method":"VXM","age":29,"value":3.14},{"method":"VXM","age":30,"value":3.11},{"method":"VXM","age":31,"value":3.11},{"method":"VXM","age":32,"value":3.11},{"method":"VXM","age":33,"value":3.10},{"method":"VXM","age":34,"value":3.05},{"method":"VXM","age":35,"value":3.04},{"method":"VXM","age":36,"value":3.01},{"method":"VXM","age":37,"value":3.01},{"method":"VXM","age":38,"value":2.99},{"method":"VXM","age":39,"value":2.97},{"method":"VXM","age":40,"value":2.95},{"method":"VXM","age":41,"value":2.92},{"method":"VXM","age":42,"value":2.89},{"method":"VXM","age":43,"value":2.89},{"method":"VXM","age":44,"value":2.87},{"method":"VXM","age":45,"value":2.86},
{"method":"Ablation/VXM+Adv","age":29,"value":3.05},{"method":"Ablation/VXM+Adv","age":30,"value":3.03},{"method":"Ablation/VXM+Adv","age":31,"value":3.01},{"method":"Ablation/VXM+Adv","age":32,"value":3.01},{"method":"Ablation/VXM+Adv","age":33,"value":2.99},{"method":"Ablation/VXM+Adv","age":34,"value":2.95},{"method":"Ablation/VXM+Adv","age":35,"value":2.92},{"method":"Ablation/VXM+Adv","age":36,"value":2.92},{"method":"Ablation/VXM+Adv","age":37,"value":2.92},{"method":"Ablation/VXM+Adv","age":38,"value":2.91},{"method":"Ablation/VXM+Adv","age":39,"value":2.86},{"method":"Ablation/VXM+Adv","age":40,"value":2.82},{"method":"Ablation/VXM+Adv","age":41,"value":2.80},{"method":"Ablation/VXM+Adv","age":42,"value":2.78},{"method":"Ablation/VXM+Adv","age":43,"value":2.78},{"method":"Ablation/VXM+Adv","age":44,"value":2.80},{"method":"Ablation/VXM+Adv","age":45,"value":2.80},
{"method":"Ablation/noAdv","age":29,"value":4.39},{"method":"Ablation/noAdv","age":30,"value":4.39},{"method":"Ablation/noAdv","age":31,"value":4.20},{"method":"Ablation/noAdv","age":32,"value":4.06},{"method":"Ablation/noAdv","age":33,"value":3.94},{"method":"Ablation/noAdv","age":34,"value":3.74},{"method":"Ablation/noAdv","age":35,"value":3.59},{"method":"Ablation/noAdv","age":36,"value":3.42},{"method":"Ablation/noAdv","age":37,"value":3.27},{"method":"Ablation/noAdv","age":38,"value":3.08},{"method":"Ablation/noAdv","age":39,"value":2.86},{"method":"Ablation/noAdv","age":40,"value":2.76},{"method":"Ablation/noAdv","age":41,"value":2.67},{"method":"Ablation/noAdv","age":42,"value":2.63},{"method":"Ablation/noAdv","age":43,"value":2.63},{"method":"Ablation/noAdv","age":44,"value":2.67},{"method":"Ablation/noAdv","age":45,"value":2.76},
{"method":"Ours","age":29,"value":4.32},{"method":"Ours","age":30,"value":4.29},{"method":"Ours","age":31,"value":4.18},{"method":"Ours","age":32,"value":3.99},{"method":"Ours","age":33,"value":3.82},{"method":"Ours","age":34,"value":3.65},{"method":"Ours","age":35,"value":3.46},{"method":"Ours","age":36,"value":3.31},{"method":"Ours","age":37,"value":3.14},{"method":"Ours","age":38,"value":2.99},{"method":"Ours","age":39,"value":2.85},{"method":"Ours","age":40,"value":2.72},{"method":"Ours","age":41,"value":2.66},{"method":"Ours","age":42,"value":2.67},{"method":"Ours","age":43,"value":2.69},{"method":"Ours","age":44,"value":2.76},{"method":"Ours","age":45,"value":2.78},
{"method":"Data/Train","age":29,"value":7.13},{"method":"Data/Train","age":30,"value":4.41},{"method":"Data/Train","age":31,"value":3.23},{"method":"Data/Train","age":32,"value":4.07},{"method":"Data/Train","age":33,"value":3.10},{"method":"Data/Train","age":34,"value":2.91},{"method":"Data/Train","age":35,"value":2.82},{"method":"Data/Train","age":36,"value":3.08},{"method":"Data/Train","age":37,"value":2.41},{"method":"Data/Train","age":38,"value":2.59},{"method":"Data/Train","age":39,"value":2.38},{"method":"Data/Train","age":40,"value":2.16},{"method":"Data/Train","age":41,"value":2.08},{"method":"Data/Train","age":42,"value":2.22},{"method":"Data/Train","age":43,"value":2.15},{"method":"Data/Train","age":44,"value":2.54},{"method":"Data/Train","age":45,"value":2.59},
{"method":"Data/Test","age":34,"value":2.53},{"method":"Data/Test","age":35,"value":2.06},{"method":"Data/Test","age":36,"value":3.69},{"method":"Data/Test","age":37,"value":2.27},{"method":"Data/Test","age":38,"value":2.86},{"method":"Data/Test","age":39,"value":2.38},{"method":"Data/Test","age":40,"value":2.06},{"method":"Data/Test","age":41,"value":2.00},{"method":"Data/Test","age":42,"value":2.34},{"method":"Data/Test","age":43,"value":2.15},{"method":"Data/Test","age":44,"value":3.04},{"method":"Data/Test","age":45,"value":2.00}
],
"b6":[
{"method":"Data/Train","age":29,"lo":6.2,"hi":8.0},{"method":"Data/Train","age":30,"lo":3.5,"hi":5.3},{"method":"Data/Train","age":31,"lo":2.6,"hi":3.9},{"method":"Data/Train","age":32,"lo":3.1,"hi":5.1},{"method":"Data/Train","age":33,"lo":2.1,"hi":4.1},{"method":"Data/Train","age":34,"lo":2.15,"hi":3.7},{"method":"Data/Train","age":35,"lo":2.1,"hi":3.6},{"method":"Data/Train","age":36,"lo":2.3,"hi":4.1},{"method":"Data/Train","age":37,"lo":1.9,"hi":3.0},{"method":"Data/Train","age":38,"lo":1.7,"hi":3.4},{"method":"Data/Train","age":39,"lo":1.7,"hi":3.1},{"method":"Data/Train","age":40,"lo":1.6,"hi":2.7},{"method":"Data/Train","age":41,"lo":1.6,"hi":2.6},{"method":"Data/Train","age":42,"lo":1.5,"hi":2.9},{"method":"Data/Train","age":43,"lo":1.4,"hi":2.9},{"method":"Data/Train","age":44,"lo":1.2,"hi":3.9},{"method":"Data/Train","age":45,"lo":2.0,"hi":3.3},
{"method":"Data/Test","age":34,"lo":2.4,"hi":2.65},{"method":"Data/Test","age":35,"lo":1.9,"hi":2.2},{"method":"Data/Test","age":36,"lo":2.6,"hi":4.1},{"method":"Data/Test","age":37,"lo":1.15,"hi":3.4},{"method":"Data/Test","age":38,"lo":2.0,"hi":3.7},{"method":"Data/Test","age":39,"lo":1.8,"hi":3.0},{"method":"Data/Test","age":40,"lo":1.6,"hi":2.5},{"method":"Data/Test","age":41,"lo":1.5,"hi":2.5},{"method":"Data/Test","age":42,"lo":1.9,"hi":2.8},{"method":"Data/Test","age":43,"lo":1.9,"hi":2.4},{"method":"Data/Test","age":44,"lo":2.0,"hi":4.0},{"method":"Data/Test","age":45,"lo":1.8,"hi":2.2}
],
"boxes":[
{"age":34,"method":"VXM","lo":3665,"q1":3795,"med":3921,"q3":4051,"hi":4180},{"age":34,"method":"Ablation/VXM+Adv","lo":3657,"q1":3808,"med":3959,"q3":4110,"hi":4261},{"age":34,"method":"Ablation/noAdv","lo":3657,"q1":3776,"med":3894,"q3":4008,"hi":4129},{"age":34,"method":"Ours","lo":3644,"q1":3751,"med":3862,"q3":3970,"hi":4078},
{"age":35,"method":"VXM","lo":3865,"q1":3865,"med":3865,"q3":3865,"hi":3865},{"age":35,"method":"Ablation/VXM+Adv","lo":3916,"q1":3916,"med":3916,"q3":3916,"hi":3916},{"age":35,"method":"Ablation/noAdv","lo":3876,"q1":3876,"med":3876,"q3":3876,"hi":3876},{"age":35,"method":"Ours","lo":3727,"q1":3727,"med":3727,"q3":3727,"hi":3727},
{"age":36,"method":"VXM","lo":3867,"q1":3867,"med":3867,"q3":3867,"hi":3867},{"age":36,"method":"Ablation/VXM+Adv","lo":3948,"q1":3948,"med":3948,"q3":3948,"hi":3948},{"age":36,"method":"Ablation/noAdv","lo":3884,"q1":3884,"med":3884,"q3":3884,"hi":3884},{"age":36,"method":"Ours","lo":3808,"q1":3808,"med":3808,"q3":3808,"hi":3808},
{"age":37,"method":"VXM","lo":3598,"q1":3838,"med":3929,"q3":3965,"hi":4051},{"age":37,"method":"Ablation/VXM+Adv","lo":3622,"q1":3787,"med":3881,"q3":3932,"hi":3970},{"age":37,"method":"Ablation/noAdv","lo":3598,"q1":3787,"med":3876,"q3":3935,"hi":4029},{"age":37,"method":"Ours","lo":3552,"q1":3687,"med":3778,"q3":3854,"hi":3948},
{"age":38,"method":"VXM","lo":3908,"q1":3908,"med":3921,"q3":3967,"hi":4037},{"age":38,"method":"Ablation/VXM+Adv","lo":3843,"q1":3849,"med":3886,"q3":3954,"hi":3991},{"age":38,"method":"Ablation/noAdv","lo":3722,"q1":3735,"med":3827,"q3":3881,"hi":3965},{"age":38,"method":"Ours","lo":3625,"q1":3638,"med":3735,"q3":3789,"hi":3935},
{"age":39,"method":"VXM","lo":3546,"q1":3719,"med":3824,"q3":3865,"hi":4024},{"age":39,"method":"Ablation/VXM+Adv","lo":3425,"q1":3703,"med":3765,"q3":3886,"hi":4226},{"age":39,"method":"Ablation/noAdv","lo":3331,"q1":3576,"med":3711,"q3":3773,"hi":4105},{"age":39,"method":"Ours","lo":3271,"q1":3552,"med":3654,"q3":3733,"hi":4018},
{"age":40,"method":"VXM","lo":3652,"q1":3800,"med":3832,"q3":3927,"hi":3973},{"age":40,"method":"Ablation/VXM+Adv","lo":3517,"q1":3746,"med":3832,"q3":3870,"hi":4024},{"age":40,"method":"Ablation/noAdv","lo":3387,"q1":3606,"med":3722,"q3":3770,"hi":3956},{"age":40,"method":"Ours","lo":3374,"q1":3573,"med":3676,"q3":3724,"hi":3886},
{"age":41,"method":"VXM","lo":3525,"q1":3733,"med":3813,"q3":3916,"hi":4186},{"age":41,"method":"Ablation/VXM+Adv","lo":3452,"q1":3692,"med":3751,"q3":3876,"hi":4118},{"age":41,"method":"Ablation/noAdv","lo":3387,"q1":3544,"med":3617,"q3":3722,"hi":3929},{"age":41,"method":"Ours","lo":3269,"q1":3503,"med":3592,"q3":3665,"hi":3956},
{"age":42,"method":"VXM","lo":3436,"q1":3606,"med":3741,"q3":3822,"hi":4005},{"age":42,"method":"Ablation/VXM+Adv","lo":3428,"q1":3546,"med":3727,"q3":3840,"hi":3983},{"age":42,"method":"Ablation/noAdv","lo":3180,"q1":3371,"med":3517,"q3":3665,"hi":3795},{"age":42,"method":"Ours","lo":3182,"q1":3315,"med":3457,"q3":3571,"hi":3687},
{"age":43,"method":"VXM","lo":3698,"q1":3778,"med":3830,"q3":3886,"hi":3889},{"age":43,"method":"Ablation/VXM+Adv","lo":3573,"q1":3722,"med":3787,"q3":3929,"hi":4137},{"age":43,"method":"Ablation/noAdv","lo":3374,"q1":3449,"med":3498,"q3":3565,"hi":3592},{"age":43,"method":"Ours","lo":3309,"q1":3395,"med":3433,"q3":3520,"hi":3530},
{"age":44,"method":"VXM","lo":3881,"q1":3902,"med":4151,"q3":4401,"hi":4447},{"age":44,"method":"Ablation/VXM+Adv","lo":3867,"q1":3884,"med":4132,"q3":4388,"hi":4436},{"age":44,"method":"Ablation/noAdv","lo":3455,"q1":3498,"med":3735,"q3":3970,"hi":3991},{"age":44,"method":"Ours","lo":3433,"q1":3449,"med":3681,"q3":3905,"hi":3911},
{"age":45,"method":"VXM","lo":3590,"q1":3795,"med":3994,"q3":4199,"hi":4401},{"age":45,"method":"Ablation/VXM+Adv","lo":3579,"q1":3795,"med":4002,"q3":4213,"hi":4428},{"age":45,"method":"Ablation/noAdv","lo":3169,"q1":3363,"med":3557,"q3":3746,"hi":3938},{"age":45,"method":"Ours","lo":3104,"q1":3293,"med":3482,"q3":3668,"hi":3854}
],
"outliers":[
{"age":38,"method":"VXM","value":3323},{"age":38,"method":"Ablation/VXM+Adv","value":3374},{"age":38,"method":"Ablation/noAdv","value":3328},{"age":38,"method":"Ours","value":3293},
{"age":39,"method":"VXM","value":4234},
{"age":40,"method":"VXM","value":3255},{"age":40,"method":"Ablation/VXM+Adv","value":3350},{"age":40,"method":"Ablation/noAdv","value":3185},{"age":40,"method":"Ours","value":3169},
{"age":41,"method":"VXM","value":4401},{"age":41,"method":"Ablation/VXM+Adv","value":4401},{"age":41,"method":"Ablation/noAdv","value":4294},{"age":41,"method":"Ours","value":4245},
{"age":42,"method":"VXM","value":4496},{"age":42,"method":"Ablation/VXM+Adv","value":4555},{"age":42,"method":"Ablation/noAdv","value":4288},{"age":42,"method":"Ours","value":4186},
{"age":43,"method":"VXM","value":4124},{"age":43,"method":"Ablation/noAdv","value":3929},{"age":43,"method":"Ours","value":3835}
]
},
"vconcat":[
{"hconcat":[
{"width":201,"height":200,"title":"Cortical gray matter",
 "resolve":{"axis":{"y":"independent"}},
 "encoding":{"x":{"field":"age","type":"quantitative","scale":{"domain":[28.2,45.8],"nice":false,"zero":false},"axis":{"values":[30,32,34,36,38,40,42,44],"title":null,"labelOverlap":false,"labelPadding":0}}},
 "layer":[
  {"data":{"name":"b1"},"mark":{"type":"area","opacity":0.22},
   "encoding":{
    "y":{"field":"lo","type":"quantitative","scale":{"domain":[3.34,7.56],"nice":false,"zero":false},"axis":{"orient":"left","labels":false,"ticks":false,"values":[3.5,4,4.5,5,5.5,6,6.5,7],"title":"×10⁵","titleFontSize":7,"titleAngle":0,"titleAlign":"left","titleBaseline":"middle","titleX":-16,"titleY":1,"titleColor":"#444"}},
    "y2":{"field":"hi"},
    "fill":{"field":"method","type":"nominal","scale":{"domain":["Data/Train","Data/Test"],"range":["#9467bd","#8c564b"]},"legend":null}}},
  {"data":{"name":"l1"},"mark":{"type":"line","strokeWidth":1.3},
   "encoding":{
    "y":{"field":"value","type":"quantitative","axis":{"orient":"left","values":[3.5,4,4.5,5,5.5,6,6.5,7],"format":".1f","labelOverlap":false,"title":"Number of Voxels","titleFontSize":14,"titlePadding":3}},
    "stroke":{"field":"method","type":"nominal","scale":{"domain":["Data/Test","Data/Train","Ours","Ablation/noAdv","Ablation/VXM+Adv","VXM"],"range":["#8c564b","#9467bd","#d62728","#2ca02c","#ff7f0e","#1f77b4"]},"legend":null}}},
  {"data":{"name":"l1"},"mark":{"type":"point","filled":true,"size":13,"opacity":1},
   "encoding":{"y":{"field":"value","type":"quantitative","axis":null},
    "color":{"field":"method","type":"nominal","scale":{"domain":["VXM","Ablation/VXM+Adv","Ablation/noAdv","Ours","Data/Train","Data/Test"],"range":["#1f77b4","#ff7f0e","#2ca02c","#d62728","#9467bd","#8c564b"]},"legend":{"orient":"top-left","title":null,"symbolType":"M-2.25,-0.14H2.25V0.14H-2.25Z M0.62,0A0.62,0.62 0 1,1 -0.62,0A0.62,0.62 0 1,1 0.62,0Z","symbolSize":64}}}}
 ]},
{"width":201,"height":200,"title":"White matter",
 "encoding":{"x":{"field":"age","type":"quantitative","scale":{"domain":[28.2,45.8],"nice":false,"zero":false},"axis":{"values":[30,32,34,36,38,40,42,44],"title":null,"labelOverlap":false,"labelPadding":0}}},
 "layer":[
  {"data":{"name":"b2"},"mark":{"type":"area","opacity":0.22},
   "encoding":{
    "y":{"field":"lo","type":"quantitative","scale":{"domain":[5.23,8.44],"nice":false,"zero":false},"axis":{"values":[5.5,6,6.5,7,7.5,8],"format":".1f","labelOverlap":false,"title":"×10⁵","titleFontSize":7,"titleAngle":0,"titleAlign":"left","titleBaseline":"middle","titleX":-15,"titleY":1,"titleColor":"#444"}},
    "y2":{"field":"hi"},
    "fill":{"field":"method","type":"nominal","scale":{"domain":["Data/Train","Data/Test"],"range":["#9467bd","#8c564b"]},"legend":null}}},
  {"data":{"name":"l2"},"mark":{"type":"line","strokeWidth":1.3},
   "encoding":{"y":{"field":"value","type":"quantitative","axis":{"values":[5.5,6,6.5,7,7.5,8],"format":".1f","labelOverlap":false,"title":"×10⁵","titleFontSize":7,"titleAngle":0,"titleAlign":"left","titleBaseline":"middle","titleX":-15,"titleY":1,"titleColor":"#444"}},
    "stroke":{"field":"method","type":"nominal","scale":{"domain":["Data/Test","Data/Train","Ours","Ablation/noAdv","Ablation/VXM+Adv","VXM"],"range":["#8c564b","#9467bd","#d62728","#2ca02c","#ff7f0e","#1f77b4"]},"legend":null}}},
  {"data":{"name":"l2"},"mark":{"type":"point","filled":true,"size":13,"opacity":1},
   "encoding":{"y":{"field":"value","type":"quantitative","axis":{"values":[5.5,6,6.5,7,7.5,8],"format":".1f","labelOverlap":false,"title":"×10⁵","titleFontSize":7,"titleAngle":0,"titleAlign":"left","titleBaseline":"middle","titleX":-15,"titleY":1,"titleColor":"#444"}},
    "color":{"field":"method","type":"nominal","scale":{"domain":["VXM","Ablation/VXM+Adv","Ablation/noAdv","Ours","Data/Train","Data/Test"],"range":["#1f77b4","#ff7f0e","#2ca02c","#d62728","#9467bd","#8c564b"]},"legend":{"orient":"top-right","title":null,"symbolType":"M-2.25,-0.14H2.25V0.14H-2.25Z M0.62,0A0.62,0.62 0 1,1 -0.62,0A0.62,0.62 0 1,1 0.62,0Z","symbolSize":64}}}}
 ]},
{"width":201,"height":200,"title":"Cerebellum",
 "encoding":{"x":{"field":"age","type":"quantitative","scale":{"domain":[28.2,45.8],"nice":false,"zero":false},"axis":{"values":[30,32,34,36,38,40,42,44],"title":null,"labelOverlap":false,"labelPadding":0}}},
 "layer":[
  {"data":{"name":"b3"},"mark":{"type":"area","opacity":0.22},
   "encoding":{
    "y":{"field":"lo","type":"quantitative","scale":{"domain":[0.531,1.286],"nice":false,"zero":false},"axis":{"values":[0.6,0.7,0.8,0.9,1.0,1.1,1.2],"format":".1f","labelOverlap":false,"title":"×10⁵","titleFontSize":7,"titleAngle":0,"titleAlign":"left","titleBaseline":"middle","titleX":-15,"titleY":1,"titleColor":"#444"}},
    "y2":{"field":"hi"},
    "fill":{"field":"method","type":"nominal","scale":{"domain":["Data/Train","Data/Test"],"range":["#9467bd","#8c564b"]},"legend":null}}},
  {"data":{"name":"l3"},"mark":{"type":"line","strokeWidth":1.3},
   "encoding":{"y":{"field":"value","type":"quantitative","axis":{"values":[0.6,0.7,0.8,0.9,1.0,1.1,1.2],"format":".1f","labelOverlap":false,"title":"×10⁵","titleFontSize":7,"titleAngle":0,"titleAlign":"left","titleBaseline":"middle","titleX":-15,"titleY":1,"titleColor":"#444"}},
    "stroke":{"field":"method","type":"nominal","scale":{"domain":["Data/Test","Data/Train","Ours","Ablation/noAdv","Ablation/VXM+Adv","VXM"],"range":["#8c564b","#9467bd","#d62728","#2ca02c","#ff7f0e","#1f77b4"]},"legend":null}}},
  {"data":{"name":"l3"},"mark":{"type":"point","filled":true,"size":13,"opacity":1},
   "encoding":{"y":{"field":"value","type":"quantitative","axis":{"values":[0.6,0.7,0.8,0.9,1.0,1.1,1.2],"format":".1f","labelOverlap":false,"title":"×10⁵","titleFontSize":7,"titleAngle":0,"titleAlign":"left","titleBaseline":"middle","titleX":-15,"titleY":1,"titleColor":"#444"}},
    "color":{"field":"method","type":"nominal","scale":{"domain":["VXM","Ablation/VXM+Adv","Ablation/noAdv","Ours","Data/Train","Data/Test"],"range":["#1f77b4","#ff7f0e","#2ca02c","#d62728","#9467bd","#8c564b"]},"legend":{"orient":"bottom-right","title":null,"symbolType":"M-2.25,-0.14H2.25V0.14H-2.25Z M0.62,0A0.62,0.62 0 1,1 -0.62,0A0.62,0.62 0 1,1 0.62,0Z","symbolSize":64}}}}
 ]},
{"width":201,"height":200,"title":"Brainstem",
 "encoding":{"x":{"field":"age","type":"quantitative","scale":{"domain":[28.2,45.8],"nice":false,"zero":false},"axis":{"values":[30,32,34,36,38,40,42,44],"title":null,"labelOverlap":false,"labelPadding":0}}},
 "layer":[
  {"data":{"name":"b4"},"mark":{"type":"area","opacity":0.22},
   "encoding":{
    "y":{"field":"lo","type":"quantitative","scale":{"domain":[2.342,3.496],"nice":false,"zero":false},"axis":{"values":[2.4,2.6,2.8,3.0,3.2,3.4],"format":".1f","labelOverlap":false,"title":"×10⁴","titleFontSize":7,"titleAngle":0,"titleAlign":"left","titleBaseline":"middle","titleX":-15,"titleY":1,"titleColor":"#444"}},
    "y2":{"field":"hi"},
    "fill":{"field":"method","type":"nominal","scale":{"domain":["Data/Train","Data/Test"],"range":["#9467bd","#8c564b"]},"legend":null}}},
  {"data":{"name":"l4"},"mark":{"type":"line","strokeWidth":1.3},
   "encoding":{"y":{"field":"value","type":"quantitative","axis":{"values":[2.4,2.6,2.8,3.0,3.2,3.4],"format":".1f","labelOverlap":false,"title":"×10⁴","titleFontSize":7,"titleAngle":0,"titleAlign":"left","titleBaseline":"middle","titleX":-15,"titleY":1,"titleColor":"#444"}},
    "stroke":{"field":"method","type":"nominal","scale":{"domain":["Data/Test","Data/Train","Ours","Ablation/noAdv","Ablation/VXM+Adv","VXM"],"range":["#8c564b","#9467bd","#d62728","#2ca02c","#ff7f0e","#1f77b4"]},"legend":null}}},
  {"data":{"name":"l4"},"mark":{"type":"point","filled":true,"size":13,"opacity":1},
   "encoding":{"y":{"field":"value","type":"quantitative","axis":{"values":[2.4,2.6,2.8,3.0,3.2,3.4],"format":".1f","labelOverlap":false,"title":"×10⁴","titleFontSize":7,"titleAngle":0,"titleAlign":"left","titleBaseline":"middle","titleX":-15,"titleY":1,"titleColor":"#444"}},
    "color":{"field":"method","type":"nominal","scale":{"domain":["VXM","Ablation/VXM+Adv","Ablation/noAdv","Ours","Data/Train","Data/Test"],"range":["#1f77b4","#ff7f0e","#2ca02c","#d62728","#9467bd","#8c564b"]},"legend":{"orient":"bottom-left","title":null,"symbolType":"M-2.25,-0.14H2.25V0.14H-2.25Z M0.62,0A0.62,0.62 0 1,1 -0.62,0A0.62,0.62 0 1,1 0.62,0Z","symbolSize":64}}}}
 ]},
{"width":201,"height":200,"title":"Hippocampi&Amygdala",
 "encoding":{"x":{"field":"age","type":"quantitative","scale":{"domain":[28.2,45.8],"nice":false,"zero":false},"axis":{"values":[30,32,34,36,38,40,42,44],"title":null,"labelOverlap":false,"labelPadding":0}}},
 "layer":[
  {"data":{"name":"b5"},"mark":{"type":"area","opacity":0.22},
   "encoding":{
    "y":{"field":"lo","type":"quantitative","scale":{"domain":[0.896,1.404],"nice":false,"zero":false},"axis":{"values":[0.9,1.0,1.1,1.2,1.3],"format":".1f","labelOverlap":false,"title":"×10⁴","titleFontSize":7,"titleAngle":0,"titleAlign":"left","titleBaseline":"middle","titleX":-15,"titleY":1,"titleColor":"#444"}},
    "y2":{"field":"hi"},
    "fill":{"field":"method","type":"nominal","scale":{"domain":["Data/Train","Data/Test"],"range":["#9467bd","#8c564b"]},"legend":null}}},
  {"data":{"name":"l5"},"mark":{"type":"line","strokeWidth":1.3},
   "encoding":{"y":{"field":"value","type":"quantitative","axis":{"values":[0.9,1.0,1.1,1.2,1.3],"format":".1f","labelOverlap":false,"title":"×10⁴","titleFontSize":7,"titleAngle":0,"titleAlign":"left","titleBaseline":"middle","titleX":-15,"titleY":1,"titleColor":"#444"}},
    "stroke":{"field":"method","type":"nominal","scale":{"domain":["Data/Test","Data/Train","Ours","Ablation/noAdv","Ablation/VXM+Adv","VXM"],"range":["#8c564b","#9467bd","#d62728","#2ca02c","#ff7f0e","#1f77b4"]},"legend":null}}},
  {"data":{"name":"l5"},"mark":{"type":"point","filled":true,"size":13,"opacity":1},
   "encoding":{"y":{"field":"value","type":"quantitative","axis":{"values":[0.9,1.0,1.1,1.2,1.3],"format":".1f","labelOverlap":false,"title":"×10⁴","titleFontSize":7,"titleAngle":0,"titleAlign":"left","titleBaseline":"middle","titleX":-15,"titleY":1,"titleColor":"#444"}},
    "color":{"field":"method","type":"nominal","scale":{"domain":["VXM","Ablation/VXM+Adv","Ablation/noAdv","Ours","Data/Train","Data/Test"],"range":["#1f77b4","#ff7f0e","#2ca02c","#d62728","#9467bd","#8c564b"]},"legend":{"orient":"top-right","title":null,"symbolType":"M-2.25,-0.14H2.25V0.14H-2.25Z M0.62,0A0.62,0.62 0 1,1 -0.62,0A0.62,0.62 0 1,1 0.62,0Z","symbolSize":64}}}}
 ]},
{"width":201,"height":200,"title":"Ventricles",
 "encoding":{"x":{"field":"age","type":"quantitative","scale":{"domain":[28.2,45.8],"nice":false,"zero":false},"axis":{"values":[30,32,34,36,38,40,42,44],"title":null,"labelOverlap":false,"labelPadding":0}}},
 "layer":[
  {"data":{"name":"b6"},"mark":{"type":"area","opacity":0.22},
   "encoding":{
    "y":{"field":"lo","type":"quantitative","scale":{"domain":[0.745,8.43],"nice":false,"zero":false},"axis":{"values":[1,2,3,4,5,6,7],"format":"d","labelOverlap":false,"title":"×10³","titleFontSize":7,"titleAngle":0,"titleAlign":"left","titleBaseline":"middle","titleX":-15,"titleY":1,"titleColor":"#444"}},
    "y2":{"field":"hi"},
    "fill":{"field":"method","type":"nominal","scale":{"domain":["Data/Train","Data/Test"],"range":["#9467bd","#8c564b"]},"legend":null}}},
  {"data":{"name":"l6"},"mark":{"type":"line","strokeWidth":1.3},
   "encoding":{"y":{"field":"value","type":"quantitative","axis":{"values":[1,2,3,4,5,6,7],"format":"d","labelOverlap":false,"title":"×10³","titleFontSize":7,"titleAngle":0,"titleAlign":"left","titleBaseline":"middle","titleX":-15,"titleY":1,"titleColor":"#444"}},
    "stroke":{"field":"method","type":"nominal","scale":{"domain":["Data/Test","Data/Train","Ours","Ablation/noAdv","Ablation/VXM+Adv","VXM"],"range":["#8c564b","#9467bd","#d62728","#2ca02c","#ff7f0e","#1f77b4"]},"legend":null}}},
  {"data":{"name":"l6"},"mark":{"type":"point","filled":true,"size":13,"opacity":1},
   "encoding":{"y":{"field":"value","type":"quantitative","axis":{"values":[1,2,3,4,5,6,7],"format":"d","labelOverlap":false,"title":"×10³","titleFontSize":7,"titleAngle":0,"titleAlign":"left","titleBaseline":"middle","titleX":-15,"titleY":1,"titleColor":"#444"}},
    "color":{"field":"method","type":"nominal","scale":{"domain":["VXM","Ablation/VXM+Adv","Ablation/noAdv","Ours","Data/Train","Data/Test"],"range":["#1f77b4","#ff7f0e","#2ca02c","#d62728","#9467bd","#8c564b"]},"legend":{"orient":"top-right","title":null,"symbolType":"M-2.25,-0.14H2.25V0.14H-2.25Z M0.62,0A0.62,0.62 0 1,1 -0.62,0A0.62,0.62 0 1,1 0.62,0Z","symbolSize":64}}}}
 ]}
],
"spacing":17,
"bounds":"flush",
"resolve":{"legend":{"color":"independent","fill":"independent","stroke":"independent"}}
},
{"width":1291,"height":193,
 "encoding":{
  "x":{"field":"age","type":"ordinal","scale":{"type":"band","range":[-17.5,1314.5],"paddingInner":0,"paddingOuter":0},"axis":{"title":"Ages (weeks)","titleFontSize":17,"titlePadding":2,"labelFontSize":12,"labelPadding":5,"labelAngle":0,"labelOverlap":false,"ticks":false,"domain":true,"domainColor":"#111","domainWidth":1.5}},
  "xOffset":{"field":"method","type":"nominal","scale":{"domain":["VXM","Ablation/VXM+Adv","Ablation/noAdv","Ours"],"paddingInner":0.22,"paddingOuter":1.1}}},
 "layer":[
  {"data":{"name":"boxes"},"mark":{"type":"rule","color":"#b0b0b0","strokeDash":[1.5,1.5],"strokeWidth":0.8},
   "encoding":{}},
  {"data":{"name":"boxes"},"mark":{"type":"rule","color":"#111","strokeWidth":1.2},
   "encoding":{
    "y":{"field":"lo","type":"quantitative","scale":{"domain":[3035,4625],"nice":false,"zero":false},"axis":{"values":[3200,3400,3600,3800,4000,4200,4400,4600],"format":"d","labelExpr":"datum.value % 400 == 200 ? datum.label : ''","labelOverlap":false,"labelFontSize":7,"grid":true,"gridDash":[1.5,1.5],"gridColor":"#a0a0a0","gridWidth":0.8,"domain":true,"domainColor":"#111","domainWidth":1.5,"title":"Mean Deformation","titleFontSize":14,"titlePadding":1}},
    "y2":{"field":"hi"}}},
  {"data":{"name":"boxes"},"mark":{"type":"bar","stroke":"#808080","strokeWidth":1.5,"opacity":1},
   "encoding":{
    "y":{"field":"q1","type":"quantitative","axis":{"values":[3200,3400,3600,3800,4000,4200,4400,4600],"format":"d","labelExpr":"datum.value % 400 == 200 ? datum.label : ''","labelOverlap":false,"labelFontSize":7,"grid":true,"gridDash":[1.5,1.5],"gridColor":"#a0a0a0","gridWidth":0.8,"domain":true,"domainColor":"#111","domainWidth":1.5,"title":"Mean Deformation","titleFontSize":14,"titlePadding":1}},
    "y2":{"field":"q3"},
    "color":{"field":"method","type":"nominal","scale":{"domain":["Ablation/VXM+Adv","Ablation/noAdv","Ours","VXM"],"range":["#ffbf86","#96cf96","#ea9393","#8ebad9"]},
      "legend":{"orient":"bottom-left","title":null,"columns":2,"symbolType":"M-2.8,-1H2.8V1H-2.8Z","symbolSize":100,"symbolStrokeColor":"#808080","symbolStrokeWidth":1.5,"symbolOffset":8,"labelOffset":10,"labelFontSize":12,"rowPadding":0,"columnPadding":12,"padding":5,"offset":8,"fillColor":"white","strokeColor":"#cccccc","cornerRadius":3}}}},
  {"data":{"name":"boxes"},"mark":{"type":"tick","color":"#111","size":14,"thickness":1.5},
   "encoding":{"y":{"field":"med","type":"quantitative","axis":{"values":[3200,3400,3600,3800,4000,4200,4400,4600],"format":"d","labelExpr":"datum.value % 400 == 200 ? datum.label : ''","labelOverlap":false,"labelFontSize":7,"grid":true,"gridDash":[1.5,1.5],"gridColor":"#a0a0a0","gridWidth":0.8,"domain":true,"domainColor":"#111","domainWidth":1.5,"title":"Mean Deformation","titleFontSize":14,"titlePadding":1}}}},
  {"data":{"name":"boxes"},"mark":{"type":"tick","color":"#111","size":8,"thickness":1.2},
   "encoding":{"y":{"field":"lo","type":"quantitative","axis":{"values":[3200,3400,3600,3800,4000,4200,4400,4600],"format":"d","labelExpr":"datum.value % 400 == 200 ? datum.label : ''","labelOverlap":false,"labelFontSize":7,"grid":true,"gridDash":[1.5,1.5],"gridColor":"#a0a0a0","gridWidth":0.8,"domain":true,"domainColor":"#111","domainWidth":1.5,"title":"Mean Deformation","titleFontSize":14,"titlePadding":1}}}},
  {"data":{"name":"boxes"},"mark":{"type":"tick","color":"#111","size":8,"thickness":1.2},
   "encoding":{"y":{"field":"hi","type":"quantitative","axis":{"values":[3200,3400,3600,3800,4000,4200,4400,4600],"format":"d","labelExpr":"datum.value % 400 == 200 ? datum.label : ''","labelOverlap":false,"labelFontSize":7,"grid":true,"gridDash":[1.5,1.5],"gridColor":"#a0a0a0","gridWidth":0.8,"domain":true,"domainColor":"#111","domainWidth":1.5,"title":"Mean Deformation","titleFontSize":14,"titlePadding":1}}}},
  {"data":{"name":"outliers"},"mark":{"type":"point","filled":true,"color":"#111","size":6,"opacity":1},
   "encoding":{"y":{"field":"value","type":"quantitative","axis":{"values":[3200,3400,3600,3800,4000,4200,4400,4600],"format":"d","labelExpr":"datum.value % 400 == 200 ? datum.label : ''","labelOverlap":false,"labelFontSize":7,"grid":true,"gridDash":[1.5,1.5],"gridColor":"#a0a0a0","gridWidth":0.8,"domain":true,"domainColor":"#111","domainWidth":1.5,"title":"Mean Deformation","titleFontSize":14,"titlePadding":1}}}}
 ]}
],
"spacing":0,
"resolve":{"scale":{"color":"independent"},"legend":{"color":"independent"}},
"config":{
 "font":"DejaVu Serif",
 "view":{"stroke":"#333","strokeWidth":1.4},
 "title":{"font":"DejaVu Serif","fontSize":15,"fontWeight":"bold","offset":2,"color":"#000"},
 "axis":{"labelFont":"DejaVu Serif","titleFont":"DejaVu Serif","labelFontSize":8,"labelColor":"#222","tickColor":"#222","tickSize":3,"labelPadding":1,"labelOverlap":false,"domain":false,"grid":false,"titleFontWeight":"normal","titleColor":"#000"},
 "legend":{"labelFont":"DejaVu Serif","labelFontSize":10,"labelColor":"#000","symbolStrokeWidth":0,"symbolOffset":4,"labelOffset":13,"rowPadding":0.8,"padding":3,"offset":3,"fillColor":"rgba(255,255,255,0.85)","strokeColor":"#cccccc","cornerRadius":2,"symbolOpacity":1,"labelLimit":300}
}
}
